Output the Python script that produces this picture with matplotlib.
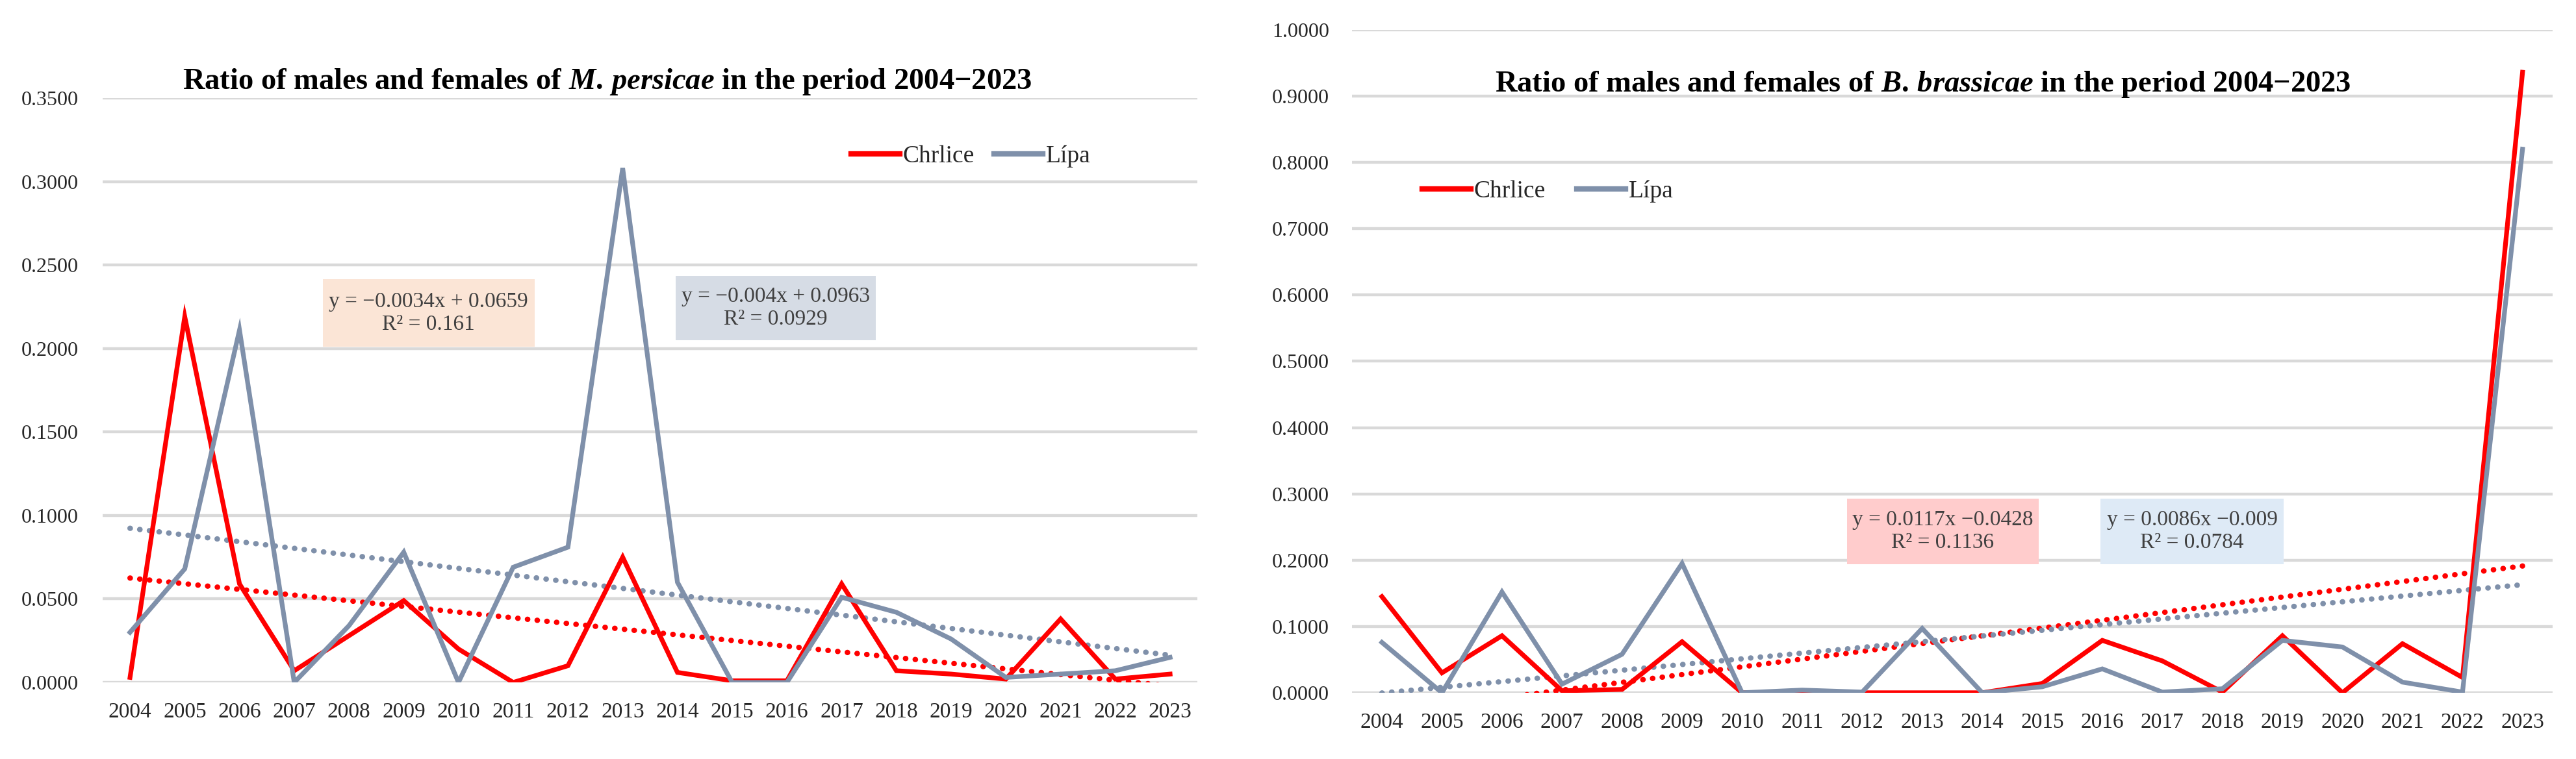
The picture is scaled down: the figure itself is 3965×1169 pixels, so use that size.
import matplotlib
matplotlib.use("Agg")
import matplotlib.pyplot as plt
from matplotlib.lines import Line2D
from matplotlib.patches import Rectangle
import numpy as np

plt.rcParams['font.family'] = ['Liberation Serif', 'DejaVu Serif']
plt.rcParams['mathtext.fontset'] = 'custom'
plt.rcParams['mathtext.it'] = 'Liberation Serif:italic:bold'
plt.rcParams['mathtext.rm'] = 'Liberation Serif:bold'

years = [str(y) for y in range(2004, 2024)]

# M. persicae
mp_chrlice = [0.003, 0.219, 0.059, 0.007, 0.028, 0.049, 0.020, 0.000, 0.010, 0.075,
              0.006, 0.001, 0.001, 0.059, 0.007, 0.005, 0.002, 0.038, 0.002, 0.005]
mp_lipa = [0.030, 0.068, 0.211, 0.000, 0.034, 0.078, 0.000, 0.069, 0.081, 0.308,
           0.060, 0.000, 0.000, 0.051, 0.042, 0.026, 0.003, 0.005, 0.007, 0.015]
mp_trend_chrlice = (-0.0034, 0.0659)
mp_trend_lipa = (-0.004, 0.0963)

# B. brassicae
bb_chrlice = [0.145, 0.030, 0.086, 0.003, 0.005, 0.077, 0.000, 0.000, 0.000, 0.000,
              0.000, 0.014, 0.079, 0.048, 0.001, 0.086, 0.000, 0.074, 0.023, 0.936]
bb_lipa = [0.076, 0.000, 0.152, 0.013, 0.058, 0.195, 0.000, 0.004, 0.001, 0.097,
           0.000, 0.009, 0.036, 0.001, 0.006, 0.079, 0.069, 0.016, 0.001, 0.820]
bb_trend_chrlice = (0.0117, -0.0428)
bb_trend_lipa = (0.0086, -0.009)

RED = '#FF0000'
BLUE = '#7F90AA'
GRID = '#D9D9D9'
TXT = '#262626'

fig = plt.figure(figsize=(39.65, 11.69), dpi=100)
fig.patch.set_facecolor('white')

def setup(ax, ymax, step, ypad):
    for s in ax.spines.values():
        s.set_visible(False)
    ax.set_xlim(-0.5, len(years) - 0.5)
    ax.set_ylim(0, ymax)
    ax.set_yticks(np.arange(0, ymax + step / 2, step))
    ax.yaxis.set_major_formatter(matplotlib.ticker.FormatStrFormatter('%.4f'))
    ax.set_xticks(range(len(years)))
    ax.set_xticklabels(years)
    ax.tick_params(axis='both', length=0, colors=TXT)
    ax.tick_params(axis='y', labelsize=23, pad=ypad)
    ax.tick_params(axis='x', labelsize=24, pad=22)
    ax.grid(axis='y', color=GRID, linewidth=3.2)
    ax.set_axisbelow(True)

def draw(ax, c, l, tc, tl):
    x = np.arange(len(years))
    n = x + 1
    ax.plot(x, c, color=RED, lw=5.2, solid_joinstyle='miter', zorder=3)
    ax.plot(x, l, color=BLUE, lw=5.2, solid_joinstyle='miter', zorder=3)
    ax.plot(x, tc[0] * n + tc[1], color=RED, lw=6, linestyle=(0, (0.05, 1.75)),
            dash_capstyle='round', zorder=2)
    ax.plot(x, tl[0] * n + tl[1], color=BLUE, lw=6, linestyle=(0, (0.05, 1.75)),
            dash_capstyle='round', zorder=2)

ax1 = fig.add_axes([0.03985, 0.1009, 0.425, 0.770])
setup(ax1, 0.35, 0.05, 27)
draw(ax1, mp_chrlice, mp_lipa, mp_trend_chrlice, mp_trend_lipa)

ax2 = fig.add_axes([0.5248, 0.0873, 0.4661, 0.8734])
setup(ax2, 1.0, 0.1, 25)
draw(ax2, bb_chrlice, bb_lipa, bb_trend_chrlice, bb_trend_lipa)

fig.text(0.2356, 1 - 126 / 1169,
         r'Ratio of males and females of $M.\,persicae$ in the period 2004−2023',
         ha='center', va='center', fontsize=33.5, fontweight='bold', color='black')
fig.text(0.7465, 1 - 130 / 1169,
         r'Ratio of males and females of $B.\,brassicae$ in the period 2004−2023',
         ha='center', va='center', fontsize=33.5, fontweight='bold', color='black')

handles = [Line2D([], [], color=RED, lw=6), Line2D([], [], color=BLUE, lw=6)]
fig.legend(handles, ['Chrlice', 'Lípa'], loc='center', bbox_to_anchor=(0.3769, 1 - 241 / 1169),
           ncol=2, frameon=False, fontsize=27, handlelength=2.0, handletextpad=0.12,
           columnspacing=0.8, labelcolor=TXT)
fig.legend(handles, ['Chrlice', 'Lípa'], loc='center', bbox_to_anchor=(0.6008, 1 - 295 / 1169),
           ncol=2, frameon=False, fontsize=27, handlelength=2.0, handletextpad=0.12,
           columnspacing=1.3, labelcolor=TXT)

boxes = [
    (0.1253, 0.5432, 0.0822, 0.0890, '#FBE5D6', 'y = −0.0034x + 0.0659\nR² = 0.161'),
    (0.2623, 0.5518, 0.0777, 0.0847, '#D6DCE5', 'y = −0.004x + 0.0963\nR² = 0.0929'),
    (0.7170, 0.2566, 0.0744, 0.0864, '#FFCCCC', 'y = 0.0117x −0.0428\nR² = 0.1136'),
    (0.8154, 0.2566, 0.0711, 0.0864, '#DEEAF6', 'y = 0.0086x −0.009\nR² = 0.0784'),
]
for x0, y0, w, h, col, txt in boxes:
    fig.add_artist(Rectangle((x0, y0), w, h, transform=fig.transFigure,
                             facecolor=col, edgecolor='none', zorder=5))
    fig.text(x0 + w / 2, y0 + h / 2, txt, ha='center', va='center', fontsize=24,
             color='#404040', linespacing=1.2, zorder=6)

fig.savefig('out.png', dpi=100, facecolor='white')
